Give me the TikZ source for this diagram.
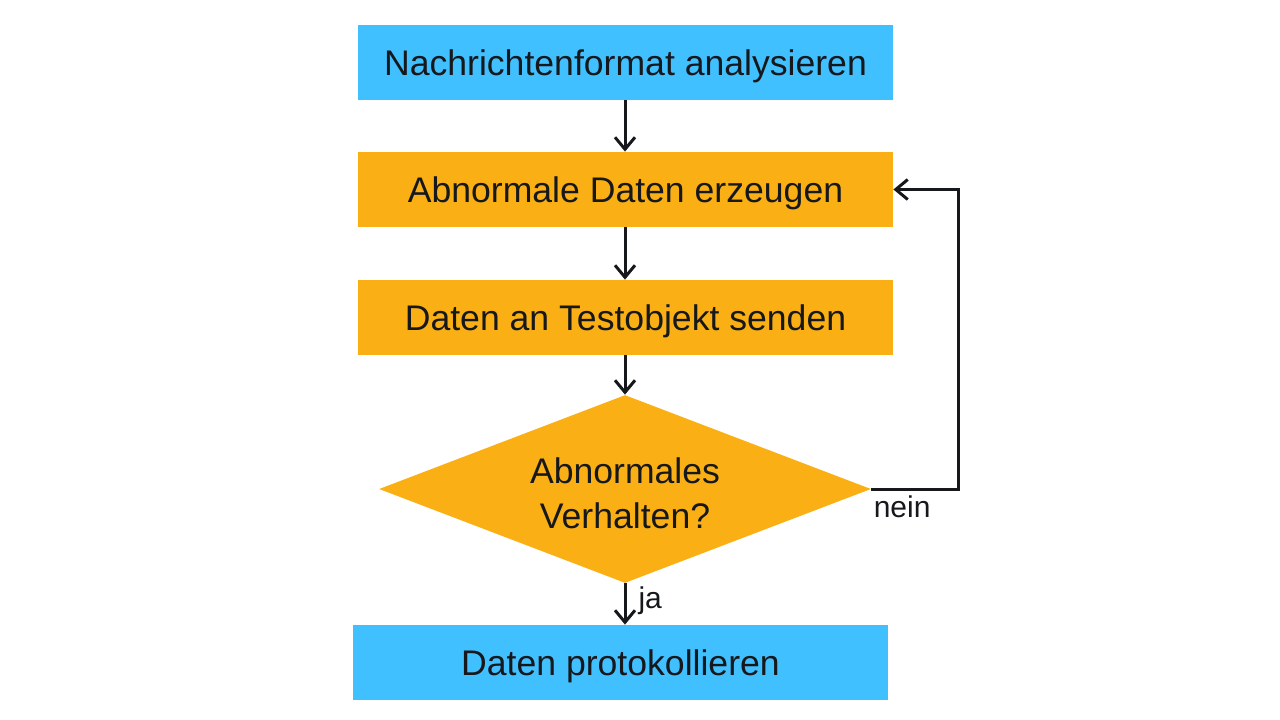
\documentclass[tikz,border=0pt]{standalone}
\usepackage{fontspec}
\setmainfont{Liberation Sans}
\usetikzlibrary{arrows.meta,shapes.geometric}
\definecolor{boxblue}{RGB}{64,192,255}
\definecolor{boxorange}{RGB}{250,176,20}
\definecolor{ink}{RGB}{22,24,28}
\begin{document}
\begin{tikzpicture}[x=0.5pt,y=-0.5pt,
  proc/.style={rectangle, minimum width=267.5pt, minimum height=37.5pt, inner sep=0pt, text depth=0pt, text=ink, font=\fontsize{17.8}{21}\selectfont},
  io/.style={proc, fill=boxblue},
  act/.style={proc, fill=boxorange},
  dec/.style={diamond, aspect=2.6, fill=boxorange, minimum width=246pt, minimum height=94pt, inner sep=0pt},
  flow/.style={draw=ink, line width=1.5pt, -{Straight Barb[length=6pt,width=10pt]}},
  lbl/.style={text=ink, font=\fontsize{15}{18}\selectfont, inner sep=1pt}]
\useasboundingbox (0,0) rectangle (1280,719);
\node[io]  (b1) at (625.5,62.5) {Nachrichtenformat analysieren};
\node[act] (b2) at (625.5,189.5) {Abnormale Daten erzeugen};
\node[act] (b3) at (625.5,317.5) {Daten an Testobjekt senden};
\node[dec] (d)  at (625,489) {};
\node[text=ink, align=center, font=\fontsize{17.8}{22.5}\selectfont] (dt) at (625,493) {Abnormales\\Verhalten?};
\node[io]  (b5) at (620.5,662.5) {Daten protokollieren};
\draw[flow] (b1.south -| d.north) -- (b2.north -| d.north);
\draw[flow] (b2.south -| d.north) -- (b3.north -| d.north);
\draw[flow] (b3.south -| d.north) -- (d.north);
\draw[flow] (d.south) -- (d.south |- b5.north) node[lbl, pos=0.42, right, xshift=5pt] {ja};
\draw[flow] (d.east) -- ++(87,0) |- (b2.east);
\node[lbl, anchor=north west] (nein) at ([yshift=-2pt]d.east) {nein};
\end{tikzpicture}
\end{document}
